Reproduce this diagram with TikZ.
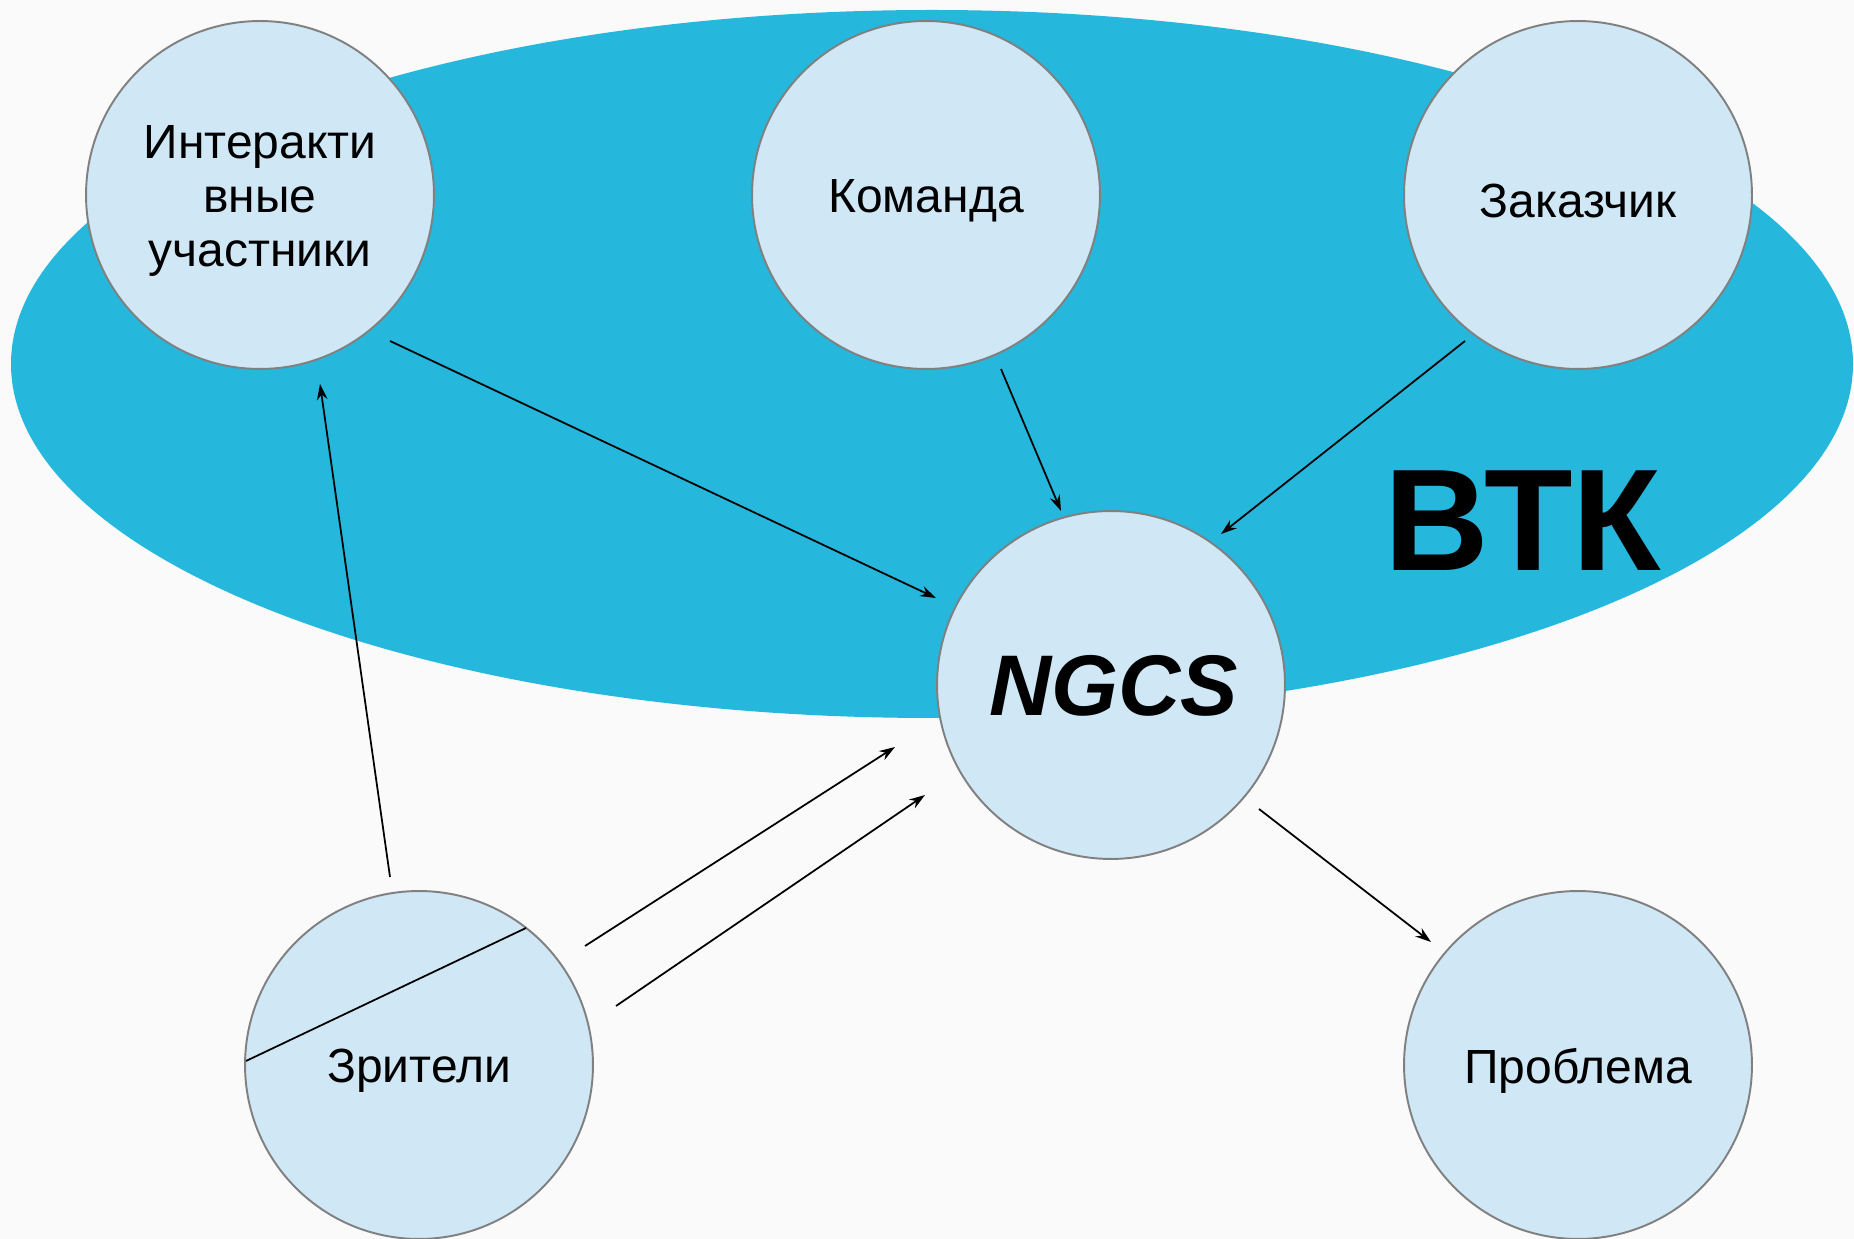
\documentclass[tikz,border=0pt]{standalone}
\usepackage{fontspec}
\setmainfont{Liberation Sans}
\usetikzlibrary{calc,arrows.meta}
\definecolor{bgc}{HTML}{FAFAFA}
\definecolor{ellc}{HTML}{25B7DC}
\definecolor{circc}{HTML}{D0E7F5}
\definecolor{rimc}{HTML}{808080}
\tikzset{
  actor/.style={circle, draw=rimc, line width=1.1pt, fill=circc, minimum size=6.96cm, inner sep=0pt},
  label/.style={align=center, font=\fontsize{27.3}{30.5}\selectfont},
  link/.style={line width=1pt, -{Stealth[length=9pt,width=6pt]}},
}
\begin{document}
\begin{tikzpicture}[x=0.02cm,y=-0.02cm]
\useasboundingbox (0,0) rectangle (1854,1239);
\fill[bgc] (0,0) rectangle (1854,1239);
\fill[ellc] (932,364) ellipse [x radius=921, y radius=354];
\node[font=\fontsize{82.5}{90}\bfseries] (vtk) at (1523,521) {ВТК};
\node[actor] (int) at (260,195) {};
\node[actor] (kom) at (926,195) {};
\node[actor] (zak) at (1578,195) {};
\node[actor] (ngcs) at (1111,685) {};
\node[actor] (zr) at (419,1065) {};
\node[actor] (prob) at (1578,1065) {};
\node[label] (intt) at ($(int)+(0,6)$) {Интеракти\\вные\\участники};
\node[label] (komt) at ($(kom)+(0,6)$) {Команда};
\node[label] (zakt) at ($(zak)+(0,6)$) {Заказчик};
\node[font=\fontsize{49}{55}\bfseries\itshape] (ngcst) at ($(ngcs)+(3,1)$) {NGCS};
\node[label] (zrt) at ($(zr)+(0,6)$) {Зрители};
\node[label] (probt) at ($(prob)+(0,6)$) {Проблема};
% arrow end points
\coordinate (a1s) at ($(int)+(130,146)$);  \coordinate (a1e) at ($(ngcs)+(-175,-87)$);
\coordinate (a2s) at ($(kom)+(75,174)$);   \coordinate (a2e) at ($(ngcs)+(-50,-174)$);
\coordinate (a3s) at ($(zak)+(-113,146)$); \coordinate (a3e) at ($(ngcs)+(110,-151)$);
\coordinate (a4s) at ($(zr)+(-29,-188)$);  \coordinate (a4e) at ($(int)+(60,189)$);
\coordinate (a5s) at ($(zr)+(166,-119)$);  \coordinate (a5e) at ($(ngcs)+(-216,62)$);
\coordinate (a6s) at ($(zr)+(197,-59)$);   \coordinate (a6e) at ($(ngcs)+(-186,110)$);
\coordinate (a7s) at ($(ngcs)+(148,124)$); \coordinate (a7e) at ($(prob)+(-147,-123)$);
\coordinate (c1) at ($(zr)+(-173,-4)$);    \coordinate (c2) at ($(zr)+(107,-137)$);
\draw[link] (a1s) -- (a1e);
\draw[link] (a2s) -- (a2e);
\draw[link] (a3s) -- (a3e);
\draw[link] (a4s) -- (a4e);
\draw[link] (a5s) -- (a5e);
\draw[link] (a6s) -- (a6e);
\draw[link] (a7s) -- (a7e);
\draw[line width=1pt] (c1) -- (c2);
\end{tikzpicture}
\end{document}
